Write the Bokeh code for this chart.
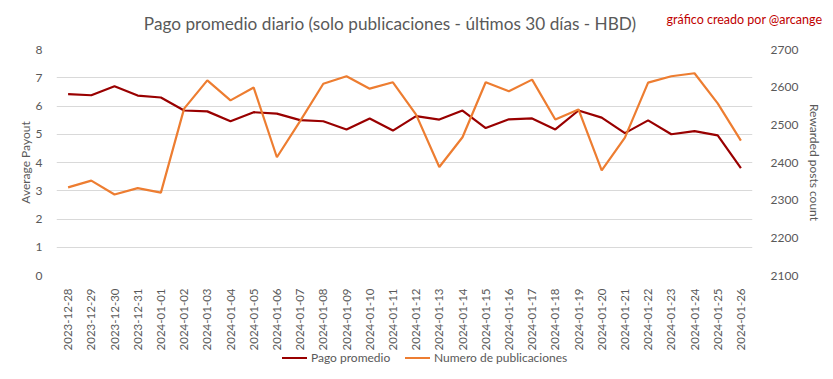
from bokeh.plotting import figure
from bokeh.models import FactorRange, Range1d, LinearAxis, SingleIntervalTicker, Div
from bokeh.layouts import column
from bokeh.embed import file_html
from bokeh.resources import INLINE
import math

dates = ["2023-12-28", "2023-12-29", "2023-12-30", "2023-12-31", "2024-01-01",
         "2024-01-02", "2024-01-03", "2024-01-04", "2024-01-05", "2024-01-06",
         "2024-01-07", "2024-01-08", "2024-01-09", "2024-01-10", "2024-01-11",
         "2024-01-12", "2024-01-13", "2024-01-14", "2024-01-15", "2024-01-16",
         "2024-01-17", "2024-01-18", "2024-01-19", "2024-01-20", "2024-01-21",
         "2024-01-22", "2024-01-23", "2024-01-24", "2024-01-25", "2024-01-26"]

pago_promedio = [6.42, 6.38, 6.70, 6.37, 6.30, 5.84, 5.81, 5.46, 5.78, 5.73,
                 5.50, 5.46, 5.17, 5.56, 5.13, 5.64, 5.52, 5.84, 5.22, 5.53,
                 5.56, 5.17, 5.84, 5.59, 5.04, 5.49, 5.00, 5.11, 4.96, 3.80]

num_publicaciones = [2334, 2352, 2315, 2332, 2320, 2543, 2618, 2565, 2599, 2414,
                     2510, 2609, 2629, 2596, 2613, 2527, 2388, 2467, 2613, 2589,
                     2620, 2514, 2541, 2379, 2466, 2612, 2629, 2637, 2557, 2458]

series_names = ["Pago promedio", "Numero de publicaciones"]
title_text = "Pago promedio diario (solo publicaciones - últimos 30 días - HBD)"
credit_text = "gráfico creado por @arcange"

FONT = "Lato"
GRAY = "#595959"
RED = "#990000"
ORANGE = "#ED7D31"

W = 825
HEAD = 41
FIG_H = 315
LEG_H = 15

header = Div(text=(
    f'<div style="position:relative;width:{W}px;height:{HEAD}px;font-family:{FONT};">'
    f'<span style="position:absolute;left:0;top:15px;width:780px;text-align:center;'
    f'font-size:17.2px;line-height:18px;color:{GRAY};white-space:nowrap;">{title_text}</span>'
    f'<span style="position:absolute;right:3px;top:13px;text-align:right;'
    f'font-size:12.5px;line-height:13px;color:#C00000;white-space:nowrap;">{credit_text}</span>'
    f'</div>'), width=W, height=HEAD, margin=0)

p = figure(width=W, height=FIG_H, x_range=FactorRange(*dates, range_padding=0),
           y_range=Range1d(0, 8), output_backend="svg", toolbar_location=None,
           min_border_left=56, min_border_right=65, min_border_top=8, min_border_bottom=81,
           margin=0)
p.extra_y_ranges = {"count": Range1d(2100, 2700)}

p.outline_line_color = None
p.background_fill_color = "white"
p.border_fill_color = "white"
p.xgrid.grid_line_color = None
p.ygrid.grid_line_color = "#D9D9D9"
p.ygrid.grid_line_width = 1

r1 = p.line(dates, pago_promedio, line_color=RED, line_width=2.2)
r2 = p.line(dates, num_publicaciones, line_color=ORANGE, line_width=2.2, y_range_name="count")

right = LinearAxis(y_range_name="count", ticker=SingleIntervalTicker(interval=100),
                   axis_label="Rewarded posts count")
p.add_layout(right, "right")

p.yaxis[0].ticker = SingleIntervalTicker(interval=1)
p.yaxis[0].axis_label = "Average Payout"

for ax in p.yaxis + p.xaxis:
    ax.axis_line_color = None
    ax.major_tick_line_color = None
    ax.minor_tick_line_color = None
    ax.major_label_text_color = GRAY
    ax.major_label_text_font = FONT
    ax.major_label_text_font_size = "12px"
    ax.axis_label_text_color = GRAY
    ax.axis_label_text_font = FONT
    ax.axis_label_text_font_size = "12px"
    ax.axis_label_text_font_style = "normal"

p.yaxis[0].major_label_standoff = 8
p.yaxis[0].axis_label_standoff = 0
right.major_label_standoff = 12
right.axis_label_standoff = 6
p.xaxis.major_label_orientation = math.pi / 2
p.xaxis.major_label_standoff = 7
p.xaxis.major_label_text_font_size = "11.5px"

legend_div = Div(text=(
    f'<div style="position:relative;width:{W}px;height:{LEG_H}px;font-family:{FONT};'
    f'font-size:12px;line-height:14px;color:{GRAY};">'
    f'<span style="position:absolute;left:282px;top:1px;width:25px;height:2px;background:{RED};"></span>'
    f'<span style="position:absolute;left:311px;top:-5px;white-space:nowrap;">{series_names[0]}</span>'
    f'<span style="position:absolute;left:405px;top:1px;width:25px;height:2px;background:{ORANGE};"></span>'
    f'<span style="position:absolute;left:434px;top:-5px;white-space:nowrap;">{series_names[1]}</span>'
    f'</div>'), width=W, height=LEG_H, margin=0)

layout = column(header, p, legend_div, spacing=0, margin=0)

open("out.html", "w").write(file_html(layout, INLINE))
